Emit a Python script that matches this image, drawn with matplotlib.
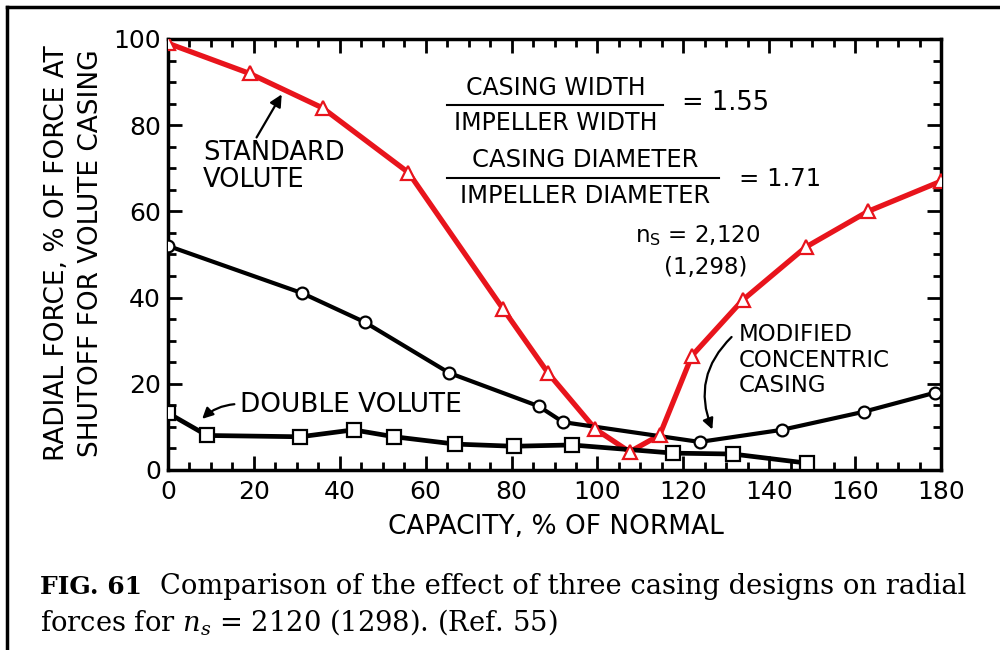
import matplotlib
matplotlib.use("Agg")
import matplotlib.pyplot as plt
from matplotlib.lines import Line2D
from matplotlib.ticker import MultipleLocator

# ---- data ----
std_x = [0, 19, 36, 56, 78, 88.5, 99.5, 107.5, 114.5, 122, 133.8, 148.5, 163, 180]
std_y = [99, 92, 84, 69, 37.4, 22.5, 9.5, 4.2, 8.1, 26.5, 39.4, 51.7, 60, 67]

conc_x = [0, 31.3, 45.8, 65.5, 86.3, 92, 123.8, 142.9, 162, 178.5]
conc_y = [52, 41, 34.3, 22.5, 14.8, 11.1, 6.5, 9.3, 13.5, 17.9]

dbl_x = [0, 9.1, 30.8, 43.2, 52.7, 66.9, 80.5, 94, 117.7, 131.5, 148.7]
dbl_y = [13.2, 8, 7.7, 9.3, 7.7, 6, 5.5, 5.8, 3.9, 3.7, 1.6]

x_ticks = [0, 20, 40, 60, 80, 100, 120, 140, 160, 180]
y_ticks = [0, 20, 40, 60, 80, 100]

RED = "#e8141c"
FONT = "DejaVu Sans"
plt.rcParams["mathtext.fontset"] = "dejavuserif"

fig = plt.figure(figsize=(10, 6.5), dpi=100)
ax = fig.add_axes([0.168, 0.277, 0.773, 0.663])

ax.plot(std_x, std_y, color=RED, lw=3.8, zorder=3)
ax.plot(std_x, std_y, ls="none", marker="^", ms=10.5, mfc="white", mec=RED, mew=1.6, zorder=5)

ax.plot(conc_x, conc_y, color="black", lw=3.0, zorder=3)
ax.plot(conc_x, conc_y, ls="none", marker="o", ms=8.5, mfc="white", mec="black", mew=1.6, zorder=5)

ax.plot(dbl_x, dbl_y, color="black", lw=3.4, zorder=3)
ax.plot(dbl_x, dbl_y, ls="none", marker="s", ms=9.5, mfc="white", mec="black", mew=1.6, zorder=5)

ax.set_xlim(0, 180)
ax.set_ylim(0, 100)
ax.set_xticks(x_ticks)
ax.set_yticks(y_ticks)
ax.xaxis.set_minor_locator(MultipleLocator(5))
ax.yaxis.set_minor_locator(MultipleLocator(5))
ax.tick_params(which="both", direction="in", top=True, right=True, width=2, color="black")
ax.tick_params(which="major", length=10, labelsize=18)
ax.tick_params(axis="x", which="major", pad=7)
ax.tick_params(axis="y", which="major", pad=5)
ax.tick_params(which="minor", length=6)
for s in ax.spines.values():
    s.set_linewidth(2.5)
for lab in ax.get_xticklabels() + ax.get_yticklabels():
    lab.set_family(FONT)

# annotations
def tk(size):
    return dict(fontsize=size, family=FONT, color="black")

ax.text(90.2, 88.6, "CASING WIDTH", ha="center", va="center", **tk(17))
ax.plot([65, 115.2], [84.7, 84.7], color="black", lw=1.5)
ax.text(90.2, 80.5, "IMPELLER WIDTH", ha="center", va="center", **tk(17))
ax.text(119.8, 85.2, "= 1.55", ha="left", va="center", **tk(18.5))

ax.text(97.2, 71.9, "CASING DIAMETER", ha="center", va="center", **tk(17.5))
ax.plot([65, 128.2], [67.7, 67.7], color="black", lw=1.5)
ax.text(97.2, 63.6, "IMPELLER DIAMETER", ha="center", va="center", **tk(17.5))
ax.text(132.9, 67.5, "= 1.71", ha="left", va="center", **tk(17.5))

ax.text(123.3, 54.3, r"n$_\mathregular{S}$ = 2,120", ha="center", va="center", **tk(16.5))
ax.text(125.2, 46.9, "(1,298)", ha="center", va="center", **tk(16.5))

ax.text(8.2, 70.5, "STANDARD\nVOLUTE", ha="left", va="center", linespacing=1.05, **tk(18.5))
ax.annotate("", xy=(26.8, 87.7), xytext=(20.3, 76.6),
            arrowprops=dict(arrowstyle="-|>", color="black", lw=1.6, mutation_scale=18))

ax.text(16.8, 15.1, "DOUBLE VOLUTE", ha="left", va="center", **tk(19))
ax.annotate("", xy=(7.5, 11.4), xytext=(16.1, 15.3),
            arrowprops=dict(arrowstyle="-|>", color="black", lw=1.6, mutation_scale=16,
                            connectionstyle="arc3,rad=0.2"))

ax.text(132.9, 25.5, "MODIFIED\nCONCENTRIC\nCASING", ha="left", va="center", linespacing=1.15, **tk(16.5))
ax.annotate("", xy=(127, 8.8), xytext=(131.7, 31.3),
            arrowprops=dict(arrowstyle="-|>", color="black", lw=1.6, mutation_scale=16,
                            connectionstyle="arc3,rad=0.35"))

# axis labels
fig.text(0.057, 0.61, "RADIAL FORCE, % OF FORCE AT", rotation=90, ha="center", va="center",
         **tk(19))
fig.text(0.091, 0.61, "SHUTOFF FOR VOLUTE CASING", rotation=90, ha="center", va="center",
         **tk(19))
fig.text(0.556, 0.189, "CAPACITY, % OF NORMAL", ha="center", va="center", **tk(19))

# caption
CAP = "DejaVu Serif"
fig.text(0.040, 0.097, "FIG. 61", ha="left", va="center", fontsize=18, family=CAP,
         weight="bold")
fig.text(0.160, 0.097, "Comparison of the effect of three casing designs on radial",
         ha="left", va="center", fontsize=19.7, family=CAP)
fig.text(0.040, 0.043, r"forces for $n_s$ = 2120 (1298). (Ref. 55)",
         ha="left", va="center", fontsize=19.7, family=CAP)

# frame (top and left only)
fig.add_artist(Line2D([0.007, 1.0], [1 - 7 / 650, 1 - 7 / 650], color="black", lw=2.5,
                      transform=fig.transFigure))
fig.add_artist(Line2D([0.007, 0.007], [0.0, 1 - 7 / 650], color="black", lw=2.5,
                      transform=fig.transFigure))

fig.savefig("out.png", dpi=100, facecolor="white")
